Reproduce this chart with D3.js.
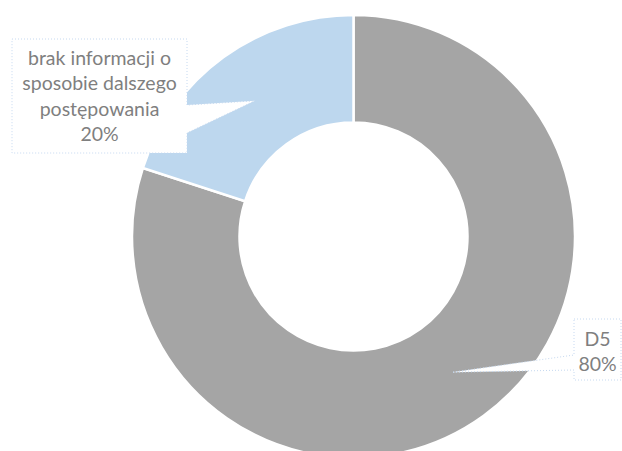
<!DOCTYPE html>
<html><head><meta charset="utf-8">
<script src="https://cdn.jsdelivr.net/npm/d3@7"></script>
<style>html,body{margin:0;padding:0;background:#fff;}svg{display:block;}</style>
</head><body>
<script>
const categories = ["D5", "brak informacji o sposobie dalszego postępowania"];
const values = [80, 20];
const labelLines = [["D5", "80%"], ["brak informacji o", "sposobie dalszego", "postępowania", "20%"]];
const colors = ["#a5a5a5", "#bdd7ee"];

const W = 622, H = 451;
const cx = 353.5, cy = 236.5, R = 221.5, r0 = 114;
const svg = d3.select("body").append("svg").attr("width", W).attr("height", H);
const g = svg.append("g").attr("transform", `translate(${cx},${cy})`);

const pie = d3.pie().sort(null).value(d => d)(values);
const arc = d3.arc().innerRadius(r0).outerRadius(R);
const color = d3.scaleOrdinal().domain(categories).range(colors);

g.selectAll("path.slice").data(pie).join("path")
  .attr("class", "slice")
  .attr("d", arc)
  .attr("fill", (d, i) => color(categories[i]))
  .attr("stroke", "#fff").attr("stroke-width", 2.5);

// callout boxes (layout)
const boxes = [
  {x0: 574, y0: 319, x1: 621, y1: 380, side: "left", b0: 355, b1: 370, cxT: 597.5, base: 346},
  {x0: 12, y0: 39, x1: 187, y1: 153, side: "right", b0: 105, b1: 133, cxT: 99.5, base: 65}
];
const lh = 25.4;
pie.forEach((d, i) => {
  const b = boxes[i];
  const c = arc.centroid(d);
  const tx = cx + c[0], ty = cy + c[1];
  let p;
  if (b.side === "right") {
    p = `M${b.x0},${b.y0}H${b.x1}V${b.b0}L${tx},${ty}L${b.x1},${b.b1}V${b.y1}H${b.x0}Z`;
  } else {
    p = `M${b.x0},${b.y0}H${b.x1}V${b.y1}H${b.x0}V${b.b1}L${tx},${ty}L${b.x0},${b.b0}Z`;
  }
  svg.append("path").attr("d", p).attr("fill", "#fff")
    .attr("stroke", "#c6d9f0").attr("stroke-width", 1).attr("stroke-dasharray", "1,2");
  const t = svg.append("text").attr("text-anchor", "middle")
    .attr("font-family", "Lato, 'Open Sans', sans-serif").attr("font-size", 19.5)
    .attr("fill", "#7f7f7f");
  labelLines[i].forEach((ln, j) => {
    t.append("tspan").attr("x", b.cxT).attr("y", b.base + j * lh).text(ln);
  });
});
</script>
</body></html>
